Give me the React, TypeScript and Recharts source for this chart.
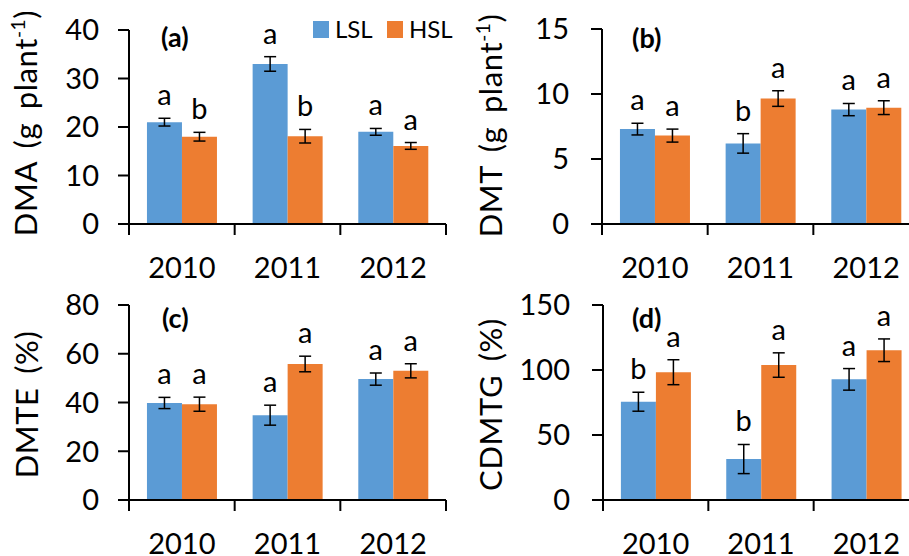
import React from "react";
import { BarChart, Bar, XAxis, YAxis, ErrorBar, LabelList, Legend } from "recharts";

const FONT = "Lato, 'Open Sans', sans-serif";
const BLUE = "#5B9BD5";
const ORANGE = "#ED7D31";

const years = ["2010", "2011", "2012"];

// (a) DMA
const dmaLsl = [21.0, 33.0, 19.0];
const dmaLslErr = [0.8, 1.5, 0.7];
const dmaHsl = [18.0, 18.1, 16.1];
const dmaHslErr = [0.9, 1.4, 0.7];
const dmaLslSig = ["a", "a", "a"];
const dmaHslSig = ["b", "b", "a"];

// (b) DMT
const dmtLsl = [7.3, 6.2, 8.8];
const dmtLslErr = [0.45, 0.75, 0.47];
const dmtHsl = [6.8, 9.65, 8.95];
const dmtHslErr = [0.5, 0.6, 0.53];
const dmtLslSig = ["a", "b", "a"];
const dmtHslSig = ["a", "a", "a"];

// (c) DMTE
const dmteLsl = [39.8, 34.8, 49.6];
const dmteLslErr = [2.3, 4.1, 2.5];
const dmteHsl = [39.3, 55.8, 53.0];
const dmteHslErr = [2.9, 3.2, 2.9];
const dmteLslSig = ["a", "a", "a"];
const dmteHslSig = ["a", "a", "a"];

// (d) CDMTG
const cdmtgLsl = [75.6, 31.5, 92.8];
const cdmtgLslErr = [7.3, 11.2, 8.3];
const cdmtgHsl = [98.3, 103.8, 115.2];
const cdmtgHslErr = [9.6, 9.4, 8.7];
const cdmtgLslSig = ["b", "b", "a"];
const cdmtgHslSig = ["a", "a", "a"];

type Row = {
  year: string;
  lsl: number;
  lslErr: number;
  lslSig: string;
  hsl: number;
  hslErr: number;
  hslSig: string;
};

const makeRows = (
  lsl: number[],
  lslErr: number[],
  lslSig: string[],
  hsl: number[],
  hslErr: number[],
  hslSig: string[]
): Row[] =>
  years.map((year, i) => ({
    year,
    lsl: lsl[i],
    lslErr: lslErr[i],
    lslSig: lslSig[i],
    hsl: hsl[i],
    hslErr: hslErr[i],
    hslSig: hslSig[i],
  }));

const sigLabel =
  (rows: Row[], valKey: "lsl" | "hsl", errKey: "lslErr" | "hslErr") =>
  (props: any) => {
    const box = props.viewBox ?? props;
    const { x, y, width, height } = box;
    const row = rows[props.index];
    const perUnit = Number(height) / row[valKey];
    const top = Number(y) - row[errKey] * perUnit;
    return (
      <text
        x={Number(x) + Number(width) / 2}
        y={top - 13}
        textAnchor="middle"
        fontSize={29}
        fontFamily={FONT}
        fill="#000"
      >
        {props.value}
      </text>
    );
  };

const YearTick = (props: any) => {
  const { x, y, payload, index } = props;
  const half = payload.offset ?? 0;
  const last = index === years.length - 1;
  return (
    <g>
      <line x1={x - half} x2={x - half} y1={y} y2={y + 11} stroke="#000" strokeWidth={2} />
      {last && <line x1={x + half} x2={x + half} y1={y} y2={y + 11} stroke="#000" strokeWidth={2} />}
      <text x={x} y={y + 54} textAnchor="middle" fontSize={29} fontFamily={FONT} fill="#000">
        {payload.value}
      </text>
    </g>
  );
};

const LegendBox = () => (
  <svg width={150} height={20} style={{ overflow: "visible", display: "block" }}>
    <rect x={0} y={0} width={16} height={17} fill={BLUE} />
    <text x={22} y={17} fontSize={24} fontFamily={FONT} fill="#000">
      LSL
    </text>
    <rect x={74} y={0} width={16} height={17} fill={ORANGE} />
    <text x={96} y={17} fontSize={24} fontFamily={FONT} fill="#000">
      HSL
    </text>
  </svg>
);

type PanelProps = {
  rows: Row[];
  left: number;
  top: number;
  width: number;
  height: number;
  marginTop: number;
  marginRight: number;
  yWidth: number;
  xHeight: number;
  tickGap: number;
  domain: [number, number];
  ticks: number[];
  label: string;
  sup?: string;
  labelX: number;
  labelDy: number;
  tag: string;
  tagX: number;
  tagY: number;
  legend?: boolean;
};

function Panel(p: PanelProps) {
  const yLabel = (props: any) => {
    const vb = props.viewBox;
    const cx = vb.x + p.labelX;
    const cy = vb.y + vb.height / 2 + p.labelDy;
    return (
      <g>
        <text
          x={cx}
          y={cy}
          transform={`rotate(-90, ${cx}, ${cy})`}
          textAnchor="middle"
          fontSize={31}
          fontFamily={FONT}
          wordSpacing={5}
          letterSpacing={0.6}
          fill="#000"
        >
          {p.sup ? (
            <>
              <tspan>{p.label}</tspan>
              <tspan fontSize={19} dy={-12}>
                {p.sup}
              </tspan>
              <tspan dy={12}>)</tspan>
            </>
          ) : (
            p.label
          )}
        </text>
        <text x={p.tagX} y={p.tagY} fontSize={27} fontWeight="bold" fontFamily={FONT} fill="#000">
          {p.tag}
        </text>
      </g>
    );
  };

  return (
    <div style={{ position: "absolute", left: p.left, top: p.top }}>
      <BarChart
        width={p.width}
        height={p.height}
        data={p.rows}
        margin={{ top: p.marginTop, right: p.marginRight, left: 0, bottom: 0 }}
        barCategoryGap="17%"
        barGap={0}
      >
        <XAxis
          dataKey="year"
          height={p.xHeight}
          interval={0}
          tickSize={0}
          tickMargin={0}
          tickLine={false}
          axisLine={{ stroke: "#000", strokeWidth: 2 }}
          tick={<YearTick />}
        />
        <YAxis
          width={p.yWidth}
          domain={p.domain}
          ticks={p.ticks}
          interval={0}
          tickSize={11}
          tickMargin={p.tickGap}
          axisLine={{ stroke: "#000", strokeWidth: 2 }}
          tickLine={{ stroke: "#000", strokeWidth: 2 }}
          tick={{ fill: "#000", fontSize: 29, fontFamily: FONT }}
          label={yLabel}
        />
        {p.legend && (
          <Legend
            verticalAlign="top"
            align="left"
            content={<LegendBox />}
            wrapperStyle={{ top: 21, left: 313, width: 150, height: 0 }}
          />
        )}
        <Bar dataKey="lsl" name="LSL" fill={BLUE} isAnimationActive={false}>
          <ErrorBar dataKey="lslErr" width={6} strokeWidth={1.5} stroke="#000" direction="y" />
          <LabelList dataKey="lslSig" content={sigLabel(p.rows, "lsl", "lslErr")} />
        </Bar>
        <Bar dataKey="hsl" name="HSL" fill={ORANGE} isAnimationActive={false}>
          <ErrorBar dataKey="hslErr" width={6} strokeWidth={1.5} stroke="#000" direction="y" />
          <LabelList dataKey="hslSig" content={sigLabel(p.rows, "hsl", "hslErr")} />
        </Bar>
      </BarChart>
    </div>
  );
}

const dmaRows = makeRows(dmaLsl, dmaLslErr, dmaLslSig, dmaHsl, dmaHslErr, dmaHslSig);
const dmtRows = makeRows(dmtLsl, dmtLslErr, dmtLslSig, dmtHsl, dmtHslErr, dmtHslSig);
const dmteRows = makeRows(dmteLsl, dmteLslErr, dmteLslSig, dmteHsl, dmteHslErr, dmteHslSig);
const cdmtgRows = makeRows(cdmtgLsl, cdmtgLslErr, cdmtgLslSig, cdmtgHsl, cdmtgHslErr, cdmtgHslSig);

export default function App() {
  return (
    <div
      style={{
        position: "absolute",
        left: 0,
        top: 0,
        width: 909,
        height: 556,
        overflow: "hidden",
        background: "#fff",
        fontFamily: FONT,
      }}
    >
      <Panel
        rows={dmaRows}
        left={0}
        top={0}
        width={460}
        height={290}
        marginTop={30}
        marginRight={14}
        yWidth={129}
        xHeight={66}
        tickGap={19}
        domain={[0, 40]}
        ticks={[0, 10, 20, 30, 40]}
        label="DMA (g plant"
        sup="-1"
        labelX={37}
        labelDy={-4}
        tag="(a)"
        tagX={161}
        tagY={47}
        legend
      />
      <Panel
        rows={dmtRows}
        left={450}
        top={0}
        width={480}
        height={290}
        marginTop={29}
        marginRight={11}
        yWidth={152}
        xHeight={66}
        tickGap={22}
        domain={[0, 15]}
        ticks={[0, 5, 10, 15]}
        label="DMT (g plant"
        sup="-1"
        labelX={52}
        labelDy={-1}
        tag="(b)"
        tagX={182}
        tagY={48}
      />
      <Panel
        rows={dmteRows}
        left={0}
        top={280}
        width={460}
        height={280}
        marginTop={25}
        marginRight={14}
        yWidth={129}
        xHeight={60}
        tickGap={19}
        domain={[0, 80]}
        ticks={[0, 20, 40, 60, 80]}
        label="DMTE (%)"
        labelX={38}
        labelDy={2}
        tag="(c)"
        tagX={162}
        tagY={48}
      />
      <Panel
        rows={cdmtgRows}
        left={450}
        top={280}
        width={480}
        height={280}
        marginTop={25}
        marginRight={11}
        yWidth={153}
        xHeight={60}
        tickGap={22}
        domain={[0, 150]}
        ticks={[0, 50, 100, 150]}
        label="CDMTG (%)"
        labelX={52}
        labelDy={2}
        tag="(d)"
        tagX={182}
        tagY={48}
      />
    </div>
  );
}
